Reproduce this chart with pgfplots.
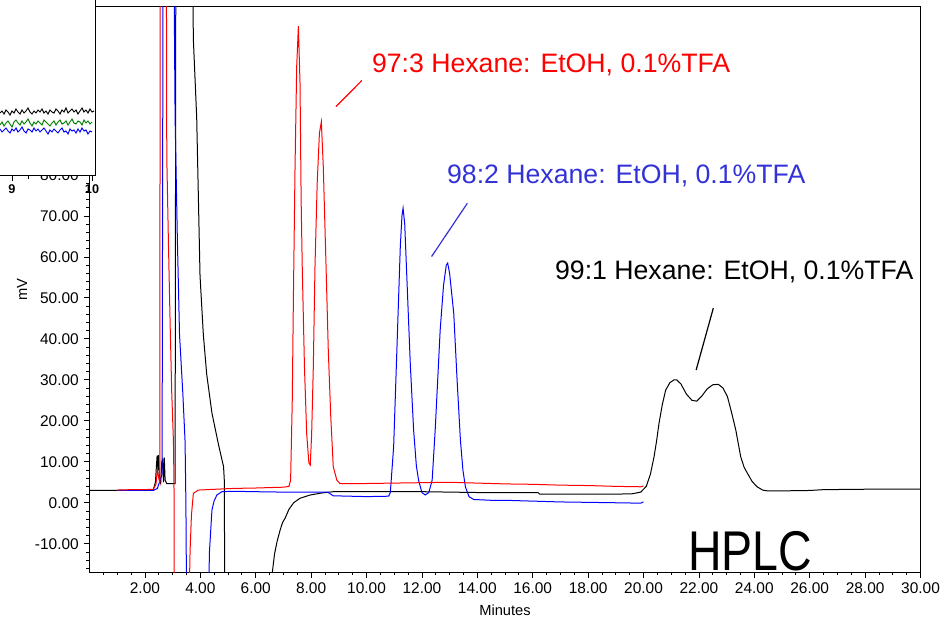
\documentclass[border=0pt]{standalone}
\usepackage{pgfplots}
\pgfplotsset{compat=1.18}
\usepackage{fontspec}
\setmainfont{Liberation Sans}
\usepackage{graphicx}
\definecolor{tred}{RGB}{255,0,0}
\definecolor{tblue}{RGB}{0,0,255}
\definecolor{lblue}{RGB}{50,50,215}
\definecolor{tgreen}{RGB}{0,128,0}
\begin{document}
\begin{tikzpicture}
\begin{axis}[
 at={(67.125pt,33.75pt)}, anchor=south west,
 scale only axis, width=623.25pt, height=423.75pt,
 xmin=0, xmax=30, ymin=-16.9, ymax=121,
 axis line style={line width=0.75pt},
 tick pos=left, tick align=outside,
 major tick length=4.5pt, minor tick length=2.5pt,
 every tick/.style={black, line width=0.6pt},
 xtick={2,4,...,30},
 xticklabels={2.00,4.00,6.00,8.00,10.00,12.00,14.00,16.00,18.00,20.00,22.00,24.00,26.00,28.00,30.00},
 minor xtick={0.5,1,...,29.5},
 ytick={-10,0,...,120},
 yticklabels={-10.00,0.00,10.00,20.00,30.00,40.00,50.00,60.00,70.00,80.00,90.00,100.00,110.00,120.00},
 minor ytick={-16,-14,...,120},
 tick label style={font=\fontsize{11.6}{13}\selectfont},
 label style={font=\fontsize{11}{13}\selectfont},
 xlabel={Minutes}, ylabel={mV},
 xlabel style={at={(axis description cs:0.5,-0.077)}, anchor=base},
 ylabel style={at={(axis description cs:-0.0812,0.5)}, anchor=center},
]
% black trace (99:1)
\addplot[black, line width=0.75pt] coordinates {
(0,3.0) (1,3.0) (2,3.0) (2.3,3.1) (2.38,5) (2.44,11.5) (2.47,8) (2.49,11.6) (2.53,5) (2.57,4.7) (2.61,10) (2.64,10.5) (2.67,5) (2.70,11) (2.73,5.5) (2.79,4.7) (3.09,4.7) (3.12,150)
(3.69,150) (3.75,113) (3.87,94) (3.93,74.7) (3.99,55.4) (4.11,41) (4.23,31.4) (4.42,21.9) (4.66,14.1) (4.84,8.8) (4.87,5) (4.88,-30)
(6.58,-30) (6.6,-17) (6.68,-12.5) (6.77,-9.5) (6.88,-6.7) (6.97,-4.8) (7.06,-3.8) (7.2,-1.6) (7.37,0) (7.6,1.1) (7.97,1.9) (8.4,2.4) (8.8,2.7)
(10,2.7) (12,2.7) (14,2.5) (16.2,2.45) (16.25,2.1) (19.0,2.1) (19.6,2.2) (19.9,2.6) (20.1,4.0) (20.25,7) (20.38,11.2) (20.47,15) (20.56,19.4) (20.68,24) (20.8,27.5) (20.95,29.3) (21.1,30) (21.2,30) (21.35,29) (21.55,26.5) (21.75,25) (21.92,24.8) (22.1,26) (22.3,27.8) (22.5,28.8) (22.7,28.9) (22.87,28) (23.03,25.9) (23.18,22) (23.33,17.8) (23.51,11.2) (23.63,8.7) (23.75,7.2) (23.92,5.2) (24.1,3.9) (24.3,3.1) (24.47,2.9) (25,2.9) (26,3.0) (26.5,3.2) (28,3.3) (30,3.3)
};
% blue trace (98:2)
\addplot[tblue, line width=0.75pt] coordinates {
(1.0,3.0) (2.0,3.0) (2.3,3.0) (2.45,3.5) (2.55,5.5) (2.62,7) (2.66,150)
(3.03,150) (3.09,94) (3.17,65) (3.25,41) (3.37,26.6) (3.45,15) (3.48,0) (3.51,-30)
(4.28,-30) (4.33,-12) (4.42,-1.8) (4.5,0.5) (4.6,1.9) (4.78,2.7) (5.2,2.8) (6,2.7) (7,2.6) (8,2.6) (8.6,2.6) (8.8,1.7) (10,1.5) (10.8,1.6)
(10.86,2.5) (10.98,13.7) (11.1,38) (11.22,62.5) (11.28,70) (11.32,71.9) (11.38,68) (11.46,54.4) (11.58,34) (11.70,17.8) (11.80,9) (11.88,5.5) (12.0,2.5) (12.12,1.9) (12.25,2.5)
(12.37,5.5) (12.48,17.8) (12.57,30) (12.66,42.2) (12.78,53) (12.88,58) (12.93,58.5) (13.0,56) (13.15,46.2) (13.27,30) (13.39,15.3) (13.48,8) (13.57,3.9) (13.7,1.5) (13.87,0.8)
(14.5,0.6) (15,0.6) (16,0.4) (17,0.2) (18,0.1) (19,0) (19.9,-0.1) (20,0.2)
};
% red trace (97:3)
\addplot[tred, line width=0.75pt] coordinates {
(1.0,3.1) (1.5,3.2) (2.0,3.2) (2.3,3.3) (2.4,4.5) (2.45,8) (2.5,6) (2.54,5) (2.55,150)
(2.77,150) (2.79,84.4) (2.85,63.2) (2.91,43.9) (2.97,26.6) (3.03,15.1) (3.05,5) (3.06,-30)
(3.58,-30) (3.63,-12) (3.68,-3) (3.75,2.3) (3.93,3.1) (4.24,3.2) (5.19,3.5) (6.0,3.6) (7.0,3.8) (7.2,4.0)
(7.26,5.5) (7.32,25) (7.36,49.5) (7.42,82) (7.48,106.5) (7.54,116.3) (7.60,102.4) (7.64,73.9) (7.68,57.6) (7.76,33.2) (7.84,16.9) (7.92,9.7) (7.97,9.2)
(8.02,16.9) (8.08,33.2) (8.14,57.6) (8.22,78) (8.30,90.2) (8.37,93.0) (8.44,82) (8.54,57.6) (8.62,37.3) (8.71,21) (8.80,8.8) (8.93,5.5) (9.04,4.7)
(10,4.7) (11,4.8) (12,4.9) (13,5.0) (14,4.8) (15,4.6) (16,4.5) (17,4.3) (18,4.2) (19,4.0) (19.9,3.9) (20.0,4.1)
};
% annotations
\draw[tred, line width=0.9pt] (axis cs:8.90,96.7) -- (axis cs:9.83,103.05);
\draw[lblue, line width=0.9pt] (axis cs:12.35,60.1) -- (axis cs:13.64,73.1);
\draw[black, line width=0.9pt] (axis cs:21.90,32.4) -- (axis cs:22.52,47.5);
\node[anchor=base west, inner sep=0, text=tred, font=\fontsize{20}{24}\selectfont] at (axis cs:10.19,105.0) {97:3 Hexane: EtOH, 0.1\%TFA};
\node[anchor=base west, inner sep=0, text=lblue, font=\fontsize{20}{24}\selectfont] at (axis cs:12.9,77.8) {98:2 Hexane: EtOH, 0.1\%TFA};
\node[anchor=base west, inner sep=0, text=black, font=\fontsize{20}{24}\selectfont] at (axis cs:16.8,54.6) {99:1 Hexane: EtOH, 0.1\%TFA};
\node[anchor=base west, inner sep=0] at (axis cs:21.6,-16.6) {\scalebox{0.83}[1]{\fontsize{42}{46}\selectfont HPLC}};
\end{axis}
% inset (cropped)
\begin{axis}[
 at={(71.25pt,330.75pt)}, anchor=south east,
 scale only axis, width=71.25pt, height=142.5pt,
 xmin=8.85, xmax=10.0375, ymin=0, ymax=190,
 axis x line*=bottom, axis y line*=right,
 axis line style={-, line width=0.75pt},
 axis background/.style={fill=white},
 ytick=\empty, xtick={9,10}, xticklabels={9,10}, minor xtick={9.2},
 tick align=outside, major tick length=4pt, minor tick length=2.5pt,
 every tick/.style={black, line width=0.6pt},
 xticklabel style={font=\bfseries\fontsize{9.5}{10}\selectfont, yshift=1pt},
]
\addplot[black, line width=0.7pt] coordinates {
(8.85,63) (8.875,65) (8.9,62) (8.925,66) (8.95,64) (8.975,61) (9.0,65) (9.025,63) (9.05,67) (9.075,64) (9.1,62) (9.125,66) (9.15,63) (9.175,65) (9.2,68) (9.225,64) (9.25,62) (9.275,65) (9.3,63) (9.325,66) (9.35,64) (9.375,67) (9.4,63) (9.425,65) (9.45,62) (9.475,66) (9.5,64) (9.525,63) (9.55,67) (9.575,65) (9.6,62) (9.625,66) (9.65,64) (9.675,68) (9.7,63) (9.725,65) (9.75,67) (9.775,64) (9.8,66) (9.825,62) (9.85,65) (9.875,68) (9.9,64) (9.925,66) (9.95,63) (9.975,67) (10.0,64) (10.025,65)
};
\addplot[tgreen, line width=0.7pt] coordinates {
(8.85,51) (8.875,54) (8.9,50) (8.925,53) (8.95,55) (8.975,52) (9.0,49) (9.025,54) (9.05,56) (9.075,53) (9.1,51) (9.125,55) (9.15,52) (9.175,54) (9.2,57) (9.225,53) (9.25,50) (9.275,54) (9.3,52) (9.325,55) (9.35,53) (9.375,51) (9.4,56) (9.425,54) (9.45,52) (9.475,50) (9.5,53) (9.525,55) (9.55,51) (9.575,54) (9.6,56) (9.625,52) (9.65,53) (9.675,55) (9.7,51) (9.725,54) (9.75,57) (9.775,53) (9.8,52) (9.825,55) (9.85,54) (9.875,51) (9.9,56) (9.925,53) (9.95,55) (9.975,52) (10.0,54)
};
\addplot[tblue, line width=0.7pt] coordinates {
(8.85,47) (8.875,44) (8.9,46) (8.925,48) (8.95,45) (8.975,43) (9.0,47) (9.025,45) (9.05,48) (9.075,44) (9.1,46) (9.125,49) (9.15,45) (9.175,43) (9.2,47) (9.225,46) (9.25,44) (9.275,48) (9.3,45) (9.325,47) (9.35,44) (9.375,46) (9.4,48) (9.425,45) (9.45,42) (9.475,46) (9.5,44) (9.525,47) (9.55,45) (9.575,43) (9.6,46) (9.625,48) (9.65,44) (9.675,45) (9.7,42) (9.725,47) (9.75,45) (9.775,46) (9.8,43) (9.825,47) (9.85,44) (9.875,48) (9.9,45) (9.925,46) (9.95,42) (9.975,45) (10.0,44)
};
\end{axis}
\pgfresetboundingbox
\path[use as bounding box] (0,0) rectangle (708pt,462.75pt);
\end{tikzpicture}
\end{document}
